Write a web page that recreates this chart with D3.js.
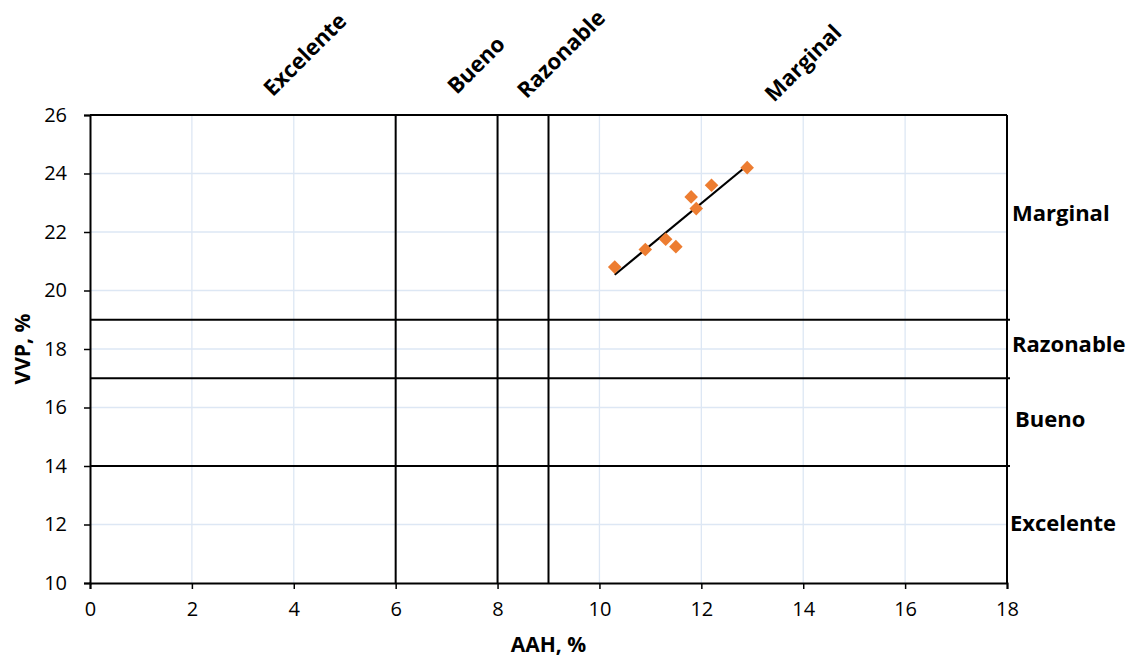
<!DOCTYPE html>
<html><head><meta charset="utf-8">
<script src="https://cdn.jsdelivr.net/npm/d3@7"></script>
<style>body{margin:0;background:#fff;} svg{display:block;font-family:"Open Sans",sans-serif;}</style>
</head><body>
<svg id="c" width="1130" height="657"></svg>
<script>
const aah = [10.3, 10.9, 11.3, 11.5, 11.8, 11.9, 12.2, 12.9];
const vvp = [20.8, 21.4, 21.75, 21.5, 23.2, 22.8, 23.6, 24.2];
const xTicks = [0, 2, 4, 6, 8, 10, 12, 14, 16, 18];
const yTicks = [10, 12, 14, 16, 18, 20, 22, 24, 26];
const xLimits = [6, 8, 9];
const yLimits = [14, 17, 19];
const topLabels = ["Excelente", "Bueno", "Razonable", "Marginal"];
const topLabelX = [4.2, 7.56, 9.23, 13.98];
const topLabelV = [28.1, 27.74, 28.12, 27.81];
const rightLabels = ["Marginal", "Razonable", "Bueno", "Excelente"];
const rightLabelY = [22.7, 18.2, 15.65, 12.1];
const xTitle = "AAH, %";
const yTitle = "VVP, %";

const FONT = '"Open Sans",sans-serif';
const svg = d3.select("#c");
const x = d3.scaleLinear().domain([0, 18]).range([90, 1007]);
const y = d3.scaleLinear().domain([10, 26]).range([583, 115]);

// gridlines
svg.append("g").selectAll("line").data(xTicks.slice(1)).join("line")
  .attr("x1", d => x(d)).attr("x2", d => x(d)).attr("y1", y(10)).attr("y2", y(26))
  .attr("stroke", "#dde7f4").attr("stroke-width", 1.3);
svg.append("g").selectAll("line").data(yTicks.slice(1)).join("line")
  .attr("x1", x(0)).attr("x2", x(18)).attr("y1", d => y(d)).attr("y2", d => y(d))
  .attr("stroke", "#dde7f4").attr("stroke-width", 1.3);

// border top/right
svg.append("line").attr("x1", x(0)).attr("x2", x(18)).attr("y1", y(26)).attr("y2", y(26)).attr("stroke", "#000").attr("stroke-width", 2);
svg.append("line").attr("x1", x(18)).attr("x2", x(18)).attr("y1", y(26)).attr("y2", y(10)).attr("stroke", "#000").attr("stroke-width", 2);

// threshold lines
svg.append("g").selectAll("line").data(xLimits).join("line")
  .attr("x1", d => x(d)).attr("x2", d => x(d)).attr("y1", y(10)).attr("y2", y(26))
  .attr("stroke", "#000").attr("stroke-width", 2);
svg.append("g").selectAll("line").data(yLimits).join("line")
  .attr("x1", x(0)).attr("x2", x(18) + 3).attr("y1", d => y(d)).attr("y2", d => y(d))
  .attr("stroke", "#000").attr("stroke-width", 2);

// axes
const xAxis = svg.append("g").attr("transform", `translate(0,${y(10)})`)
  .call(d3.axisBottom(x).tickValues(xTicks).tickSize(6).tickPadding(13).tickFormat(d3.format("d")));
const yAxis = svg.append("g").attr("transform", `translate(${x(0)},0)`)
  .call(d3.axisLeft(y).tickValues(yTicks).tickSize(6).tickPadding(17).tickFormat(d3.format("d")));
[xAxis, yAxis].forEach(a => {
  a.select(".domain").attr("stroke", "#000").attr("stroke-width", 2);
  a.selectAll(".tick line").attr("stroke", "#000").attr("stroke-width", 1.5);
  a.selectAll(".tick text").attr("fill", "#000").style("font-size", "20px").style("font-family", FONT);
});

// trendline (least squares)
const mx = d3.mean(aah), my = d3.mean(vvp);
const slope = d3.sum(aah, (d, i) => (d - mx) * (vvp[i] - my)) / d3.sum(aah, d => (d - mx) ** 2);
const icpt = my - slope * mx;
const x0 = d3.min(aah), x1 = d3.max(aah);
svg.append("line").attr("x1", x(x0)).attr("y1", y(icpt + slope * x0))
  .attr("x2", x(x1)).attr("y2", y(icpt + slope * x1))
  .attr("stroke", "#000").attr("stroke-width", 2.2);

// points
svg.append("g").selectAll("rect").data(aah).join("rect")
  .attr("x", -4.8).attr("y", -4.8).attr("width", 9.6).attr("height", 9.6)
  .attr("transform", (d, i) => `translate(${x(d)},${y(vvp[i])}) rotate(45)`)
  .attr("fill", "#ed7d31");

// top labels
svg.append("g").selectAll("text").data(topLabels).join("text")
  .attr("transform", (d, i) => `translate(${x(topLabelX[i])},${y(topLabelV[i])}) rotate(-45)`)
  .attr("text-anchor", "middle").attr("dominant-baseline", "central")
  .style("font-size", "22px").style("font-weight", "bold").text(d => d);

// right labels
svg.append("g").selectAll("text").data(rightLabels).join("text")
  .attr("x", (d, i) => i === 2 ? 1015 : i === 3 ? 1010 : 1012)
  .attr("y", (d, i) => y(rightLabelY[i]))
  .attr("dominant-baseline", "central")
  .style("font-size", "22px").style("font-weight", "bold").text(d => d);

// axis titles
svg.append("text").attr("x", x(9)).attr("y", 644).attr("text-anchor", "middle")
  .attr("dominant-baseline", "central").style("font-size", "21px").style("font-weight", "bold").text(xTitle);
svg.append("text").attr("transform", `translate(22,${y(18)}) rotate(-90)`).attr("text-anchor", "middle")
  .attr("dominant-baseline", "central").style("font-size", "21px").style("font-weight", "bold").text(yTitle);
</script>
</body></html>
